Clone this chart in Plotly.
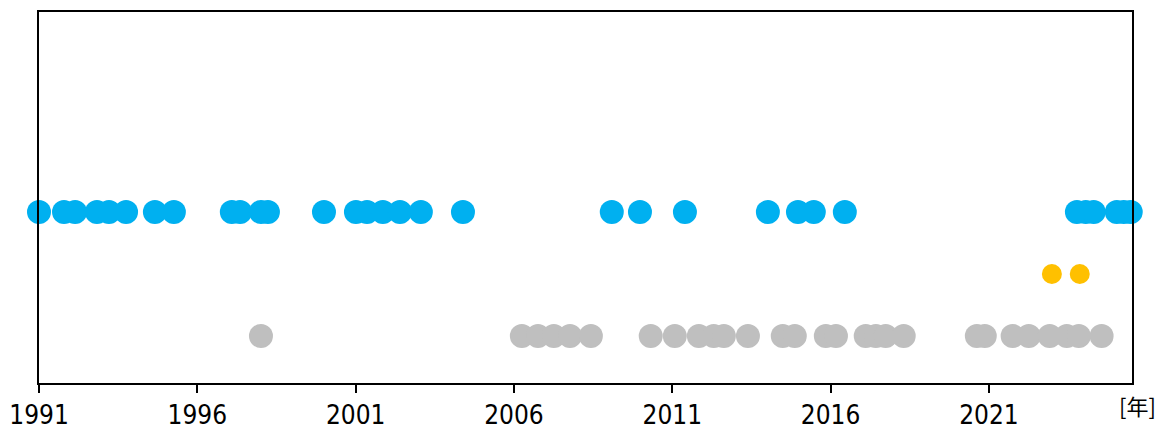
import plotly.graph_objects as go

# Event years (decimal years)
blue_years = [1991.00, 1991.79, 1992.14, 1992.83, 1993.21, 1993.75, 1994.66, 1995.26,
              1997.09, 1997.35, 1998.01, 1998.23, 2000.00, 2001.01, 2001.36, 2001.86,
              2002.40, 2003.06, 2004.39, 2009.09, 2009.98, 2011.40, 2014.02, 2014.97,
              2015.47, 2016.45, 2023.78, 2024.06, 2024.31, 2025.04, 2025.26, 2025.48]
orange_years = [2022.99, 2023.87]
gray_years = [1998.01, 2006.25, 2006.76, 2007.26, 2007.77, 2008.43, 2010.32, 2011.08,
              2011.84, 2012.31, 2012.63, 2013.39, 2014.49, 2014.87, 2015.85, 2016.17,
              2017.11, 2017.43, 2017.74, 2018.31, 2020.62, 2020.87, 2021.75, 2022.26,
              2022.92, 2023.46, 2023.84, 2024.56]

row_levels = {"blue": 3, "orange": 2, "gray": 1}
tick_years = [1991, 1996, 2001, 2006, 2011, 2016, 2021]
tick_labels = [str(y) for y in tick_years]

FONT = "DejaVu Sans Condensed, Liberation Sans Narrow, sans-serif"

fig = go.Figure()
for name, xs, color in [("blue", blue_years, "#00B0F0"),
                        ("orange", orange_years, "#FFC000"),
                        ("gray", gray_years, "#BFBFBF")]:
    fig.add_trace(go.Scatter(
        x=xs, y=[row_levels[name]] * len(xs), mode="markers",
        marker=dict(size=24 if name != "orange" else 20, color=color, line=dict(width=0)),
        showlegend=False, cliponaxis=False, hoverinfo="x"))

fig.update_layout(
    width=1159, height=427,
    margin=dict(l=31, r=35, t=4, b=52, autoexpand=False),
    paper_bgcolor="white", plot_bgcolor="white",
    font=dict(family=FONT, size=26, color="black"),
    xaxis=dict(range=[1991, 2025.52], tickvals=tick_years, ticktext=tick_labels,
               automargin=False,
               showgrid=False, zeroline=False, showline=True, linecolor="black",
               linewidth=2, mirror=True, ticks="outside", ticklen=8, tickwidth=1.5,
               tickcolor="black", tickfont=dict(family=FONT, size=26)),
    yaxis=dict(range=[0.24, 6.23], showticklabels=False, showgrid=False,
               automargin=False,
               zeroline=False, showline=True, linecolor="black", linewidth=2,
               mirror=True, ticks=""),
    annotations=[dict(text="[年]", x=1, y=0, xref="paper", yref="paper",
                      xanchor="center", yanchor="top", xshift=5, yshift=-4,
                      showarrow=False,
                      font=dict(family="Noto Sans CJK JP, sans-serif", size=22))],
)

fig.write_html("out.html")
